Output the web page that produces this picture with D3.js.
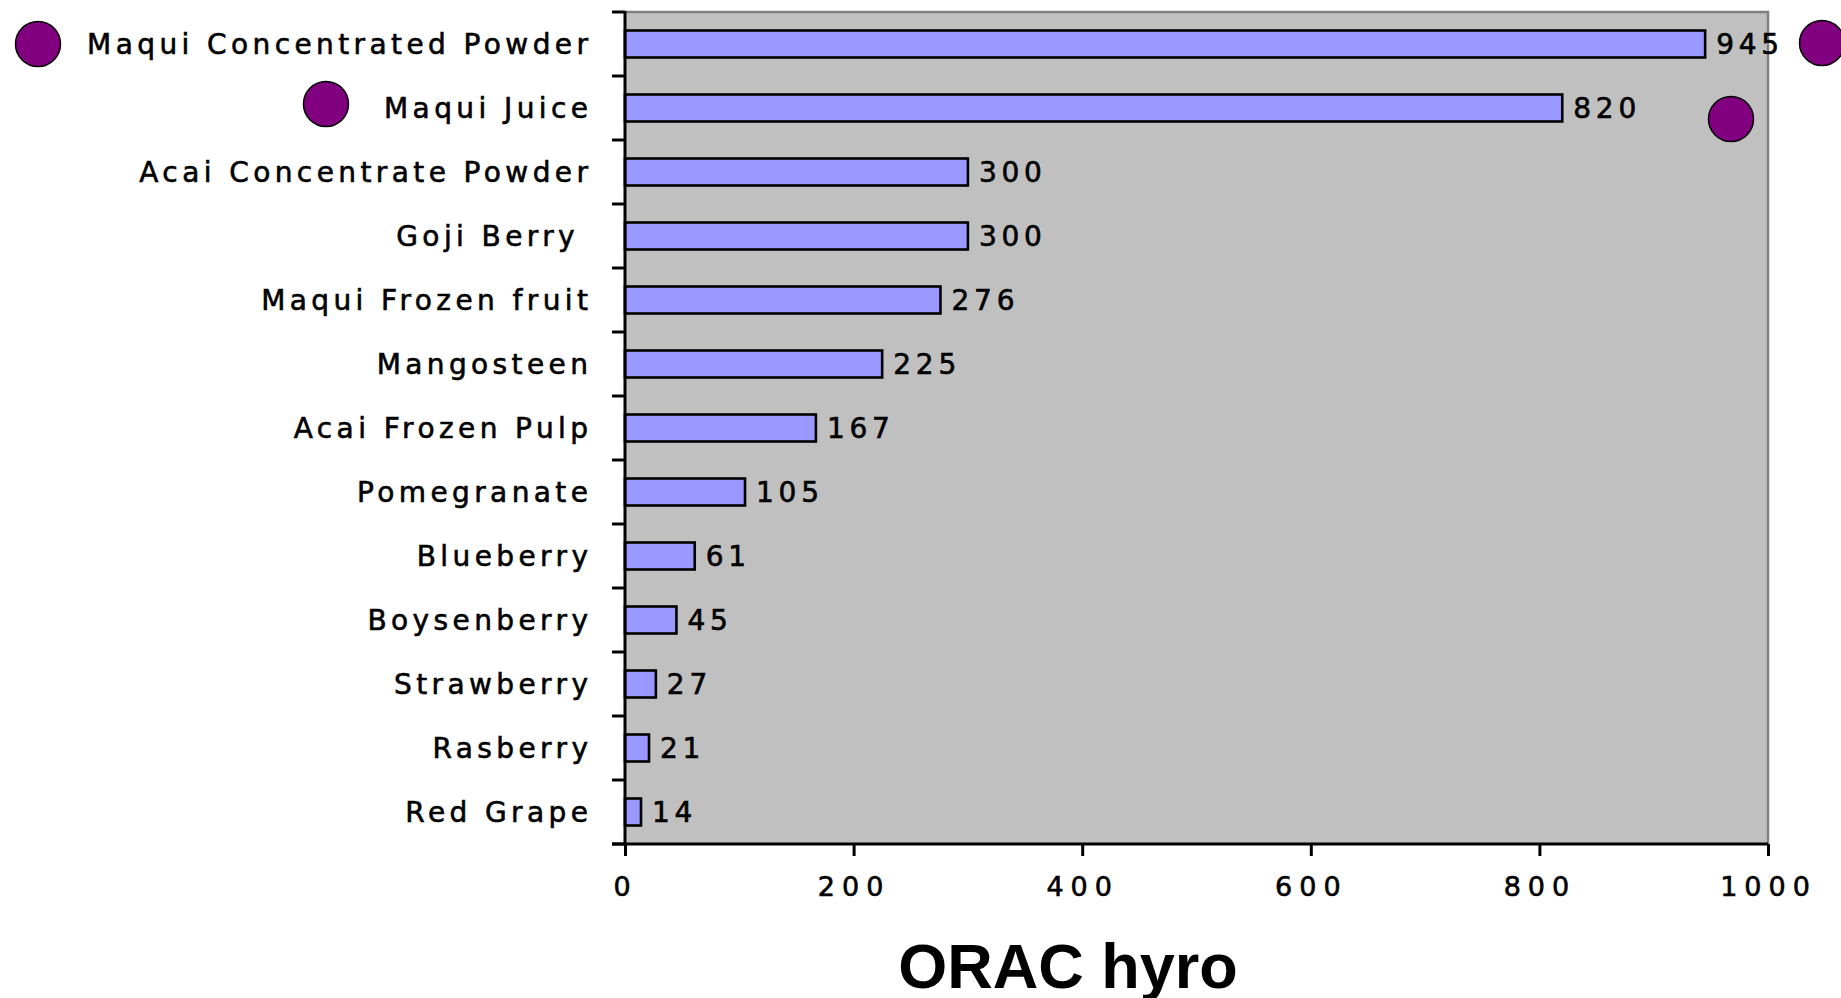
<!DOCTYPE html>
<html>
<head>
<meta charset="utf-8">
<script src="https://cdn.jsdelivr.net/npm/d3@7"></script>
<style>
  html, body { margin: 0; padding: 0; background: #fff; }
  svg { display: block; }
</style>
</head>
<body>
<div id="chart"></div>
<script>
const categories = [
  "Maqui Concentrated Powder",
  "Maqui Juice",
  "Acai Concentrate Powder",
  "Goji Berry ",
  "Maqui Frozen fruit",
  "Mangosteen",
  "Acai Frozen Pulp",
  "Pomegranate",
  "Blueberry",
  "Boysenberry",
  "Strawberry",
  "Rasberry",
  "Red Grape"
];
const values = [945, 820, 300, 300, 276, 225, 167, 105, 61, 45, 27, 21, 14];
const xTicks = [0, 200, 400, 600, 800, 1000];
const axisTitle = "ORAC hyro";

// purple dot markers next to the two maqui entries
const markers = [
  { side: "left", cat: "Maqui Concentrated Powder", dx: 38, dy: 0 },
  { side: "left", cat: "Maqui Juice", dx: 326, dy: -4 },
  { side: "right", cat: "Maqui Concentrated Powder", dx: 54, dy: -1 },
  { side: "right", cat: "Maqui Juice", dx: -37, dy: 11 }
];

const width = 1841, height = 998;
const margin = { top: 12, right: 73, bottom: 154, left: 625 };
const font = "'DejaVu Sans', Verdana, sans-serif";

const svg = d3.select("#chart").append("svg")
  .attr("width", width)
  .attr("height", height);

const x = d3.scaleLinear()
  .domain([0, 1000])
  .range([margin.left, width - margin.right]);

const y = d3.scaleBand()
  .domain(categories)
  .range([margin.top, height - margin.bottom])
  .paddingInner(0.578)
  .paddingOuter(0.289);

const x0 = x.range()[0], x1 = x.range()[1];
const y0 = y.range()[0], y1 = y.range()[1];

// plot background
svg.append("rect")
  .attr("x", x0).attr("y", y0)
  .attr("width", x1 - x0).attr("height", y1 - y0)
  .attr("fill", "#c0c0c0");

// gray frame on top and right
svg.append("path")
  .attr("d", `M${x0},${y0}H${x1}V${y1}`)
  .attr("fill", "none")
  .attr("stroke", "#808080")
  .attr("stroke-width", 2.5);

// bars
svg.append("g")
  .selectAll("rect")
  .data(values)
  .join("rect")
  .attr("x", x(0))
  .attr("y", (d, i) => y(categories[i]))
  .attr("width", d => x(d) - x(0))
  .attr("height", y.bandwidth())
  .attr("fill", "#9999ff")
  .attr("stroke", "#000")
  .attr("stroke-width", 2.6);

// value labels
svg.append("g")
  .selectAll("text")
  .data(values)
  .join("text")
  .attr("x", d => x(d) + 11)
  .attr("y", (d, i) => y(categories[i]) + y.bandwidth() / 2 + 10)
  .style("font-family", font)
  .style("font-size", "28px")
  .style("letter-spacing", "4.8px")
  .attr("fill", "#000")
  .attr("stroke", "#000")
  .attr("stroke-width", 0.6)
  .text(d => d);

// y axis: line + ticks at band boundaries
const boundaries = categories.map(c => y(c) - (y.step() - y.bandwidth()) / 2).concat([y1]);
svg.append("line")
  .attr("x1", x0).attr("x2", x0)
  .attr("y1", y0 - 1).attr("y2", y1)
  .attr("stroke", "#000").attr("stroke-width", 3);
svg.append("g")
  .selectAll("line")
  .data(boundaries)
  .join("line")
  .attr("x1", x0 - 13).attr("x2", x0)
  .attr("y1", d => d).attr("y2", d => d)
  .attr("stroke", "#000").attr("stroke-width", 3);

// category labels
svg.append("g")
  .selectAll("text")
  .data(categories)
  .join("text")
  .attr("x", x0 - 37 + 4.4)
  .attr("y", d => y(d) + y.bandwidth() / 2 + 10)
  .attr("text-anchor", "end")
  .style("font-family", font)
  .style("font-size", "28px")
  .style("letter-spacing", "4.4px")
  .style("white-space", "pre")
  .attr("fill", "#000")
  .attr("stroke", "#000")
  .attr("stroke-width", 0.6)
  .text(d => d);

// x axis
const xAxis = svg.append("g")
  .attr("transform", `translate(0,${y1})`)
  .call(d3.axisBottom(x).tickValues(xTicks).tickFormat(d3.format("d"))
    .tickSize(12).tickPadding(21).tickSizeOuter(0));
xAxis.select(".domain").attr("stroke", "#000").attr("stroke-width", 3)
  .attr("d", `M${x0 - 13},0H${x1}`);
xAxis.selectAll(".tick line").attr("stroke", "#000").attr("stroke-width", 3);
xAxis.selectAll(".tick text")
  .style("font-family", font)
  .style("font-size", "27px")
  .style("letter-spacing", "7px")
  .attr("fill", "#000")
  .attr("stroke", "#000")
  .attr("stroke-width", 0.6);

// axis title
svg.append("text")
  .attr("x", 1068)
  .attr("y", 988)
  .attr("text-anchor", "middle")
  .style("font-family", "'Liberation Sans', Arial, sans-serif")
  .style("font-weight", "bold")
  .style("font-size", "63px")
  .attr("fill", "#000")
  .text(axisTitle);

// purple markers
svg.append("g")
  .selectAll("circle")
  .data(markers)
  .join("circle")
  .attr("cx", d => d.side === "left" ? d.dx : x1 + d.dx)
  .attr("cy", d => y(d.cat) + y.bandwidth() / 2 + d.dy)
  .attr("r", 22.5)
  .attr("fill", "#800080")
  .attr("stroke", "#000")
  .attr("stroke-width", 1.5);
</script>
</body>
</html>
